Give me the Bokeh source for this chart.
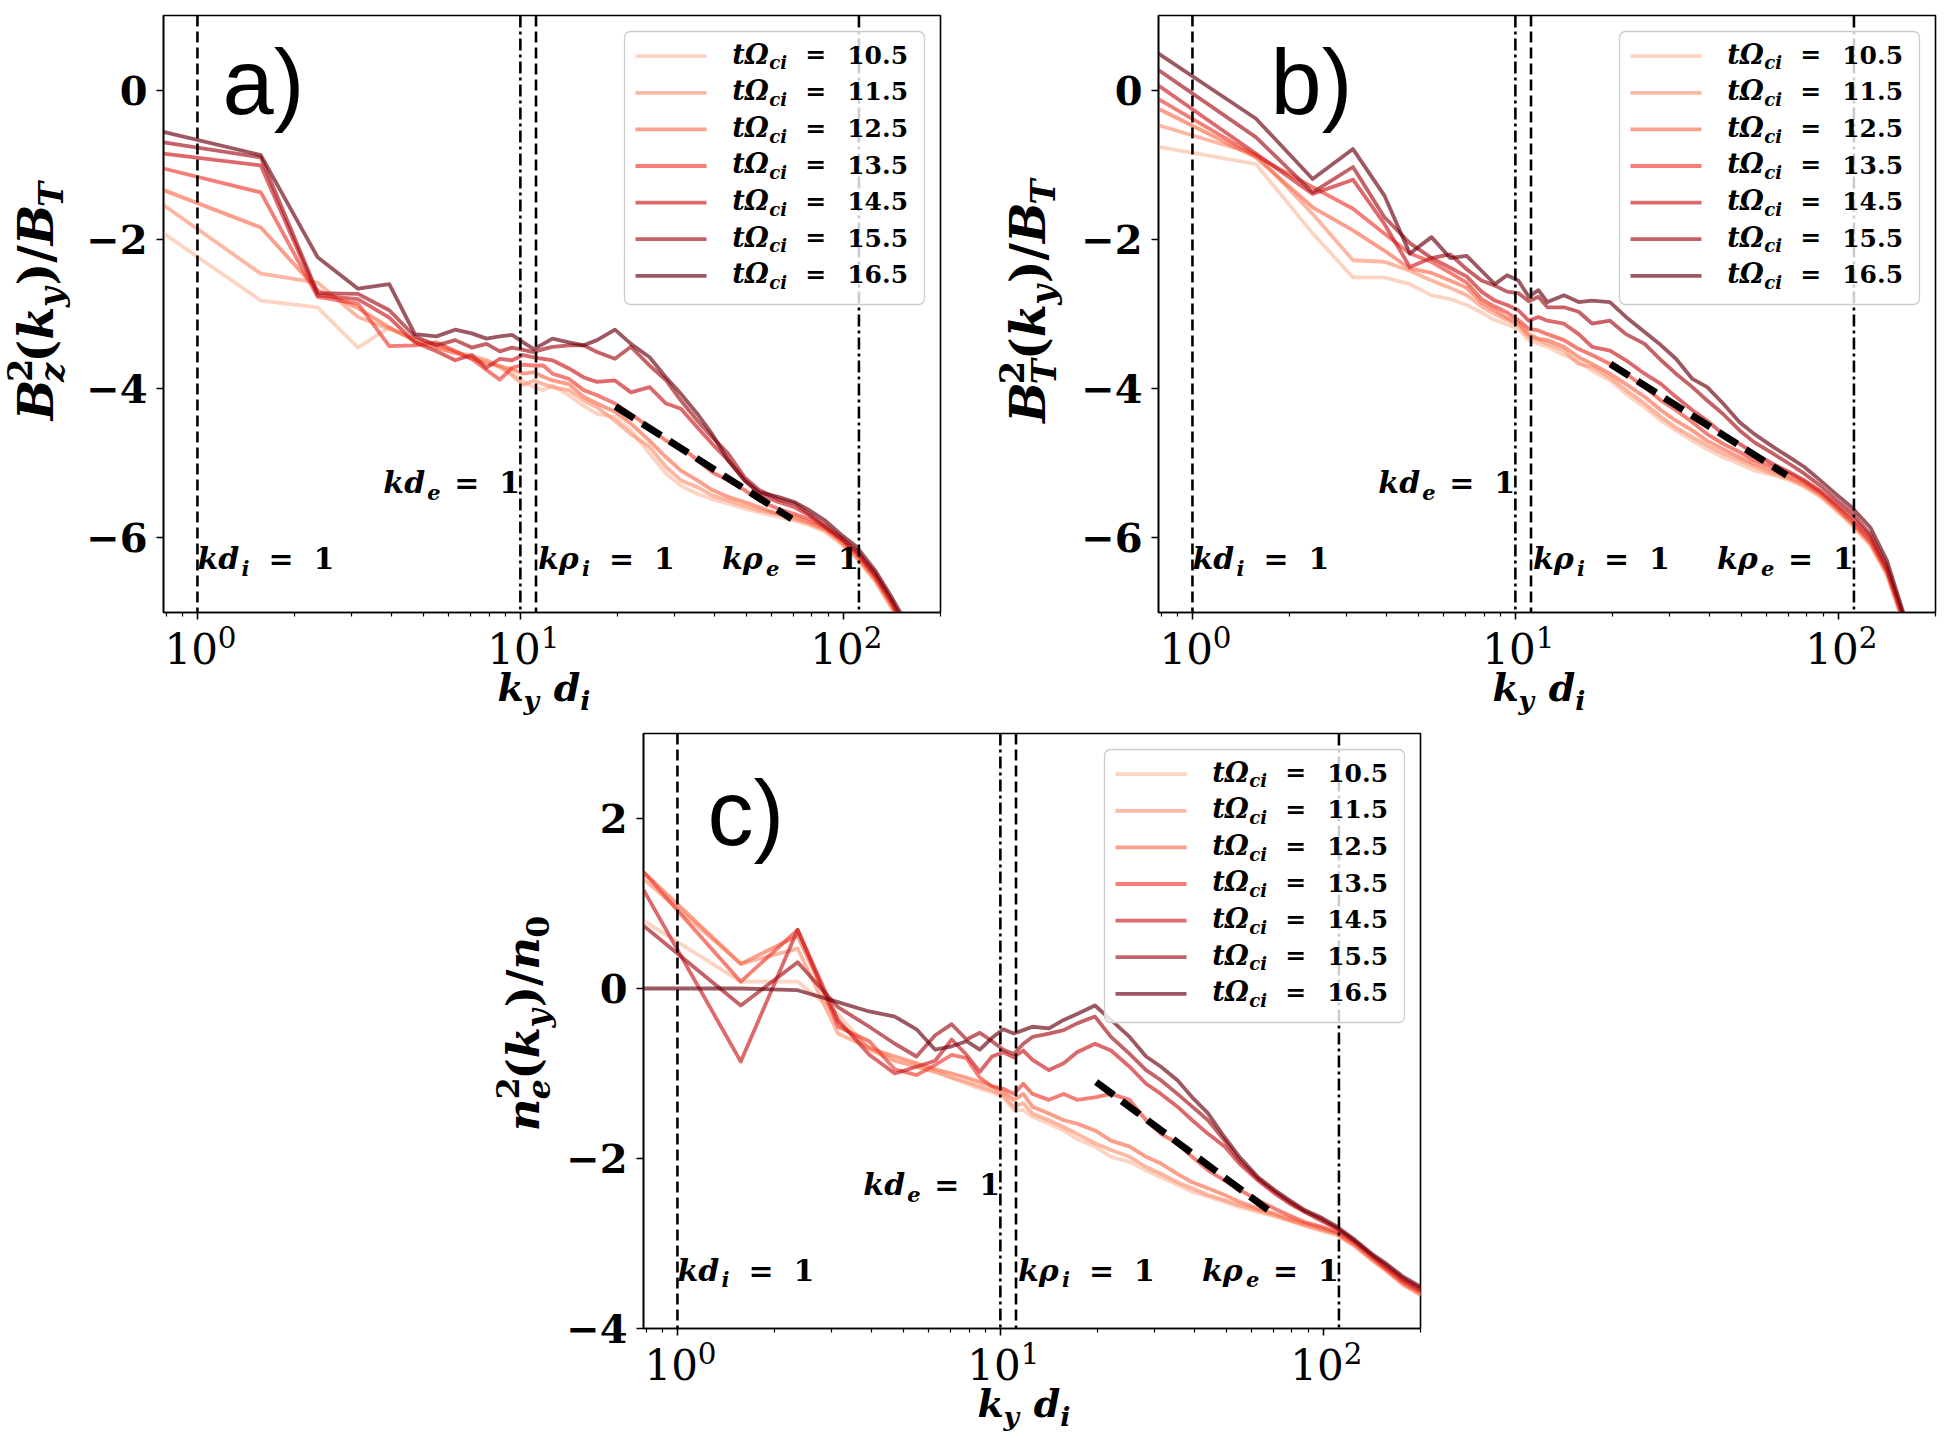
import math
from bokeh.plotting import figure
from bokeh.models import (Range1d, FixedTicker, Span, Label, BoxAnnotation, Spacer,
                          CustomJSTickFormatter)
from bokeh.layouts import row, column
from bokeh.embed import file_html
from bokeh.resources import INLINE

# ---------------- data ----------------
K = [0.785, 1.571, 2.356, 3.142, 3.927, 4.712, 5.498, 6.283, 7.069, 7.854, 8.639, 9.425,
     10.21, 11.0, 11.78, 12.57, 14.14, 15.71, 17.28, 19.63, 22.0, 25.13, 28.27, 31.42,
     35.34, 39.27, 43.98, 49.48, 54.98, 62.83, 70.69, 78.54, 87.96, 98.17, 110.0, 125.7,
     141.4, 157.1, 176.7, 200.3]

TIMES = ["10.5", "11.5", "12.5", "13.5", "14.5", "15.5", "16.5"]
COLORS = ["#fcbba1", "#fc9272", "#fb6a4a", "#ef3b2c", "#cb181d", "#a50f15", "#67000d"]

# panel a : B_z^2
A_105 = [-1.92, -2.82, -2.91, -3.45, -3.18, -3.36, -3.45, -3.52, -3.55, -3.62, -3.72, -3.80, -3.90,
         -3.98, -4.02, -3.96, -4.09, -4.23, -4.34, -4.38, -4.56, -4.87, -5.14, -5.30, -5.41, -5.48,
         -5.54, -5.61, -5.66, -5.72, -5.77, -5.83, -5.92, -6.08, -6.28, -6.59, -6.95, -7.35, -7.95, -8.55]
A_115 = [-1.54, -2.46, -2.58, -3.04, -3.20, -3.33, -3.42, -3.50, -3.58, -3.62, -3.70, -3.82, -3.95,
         -3.89, -3.94, -3.98, -4.02, -4.16, -4.25, -4.43, -4.61, -4.78, -5.05, -5.23, -5.32, -5.43,
         -5.50, -5.57, -5.63, -5.68, -5.75, -5.81, -5.90, -6.06, -6.26, -6.57, -6.93, -7.35, -7.90, -8.50]
A_125 = [-1.34, -1.84, -2.68, -2.92, -3.18, -3.36, -3.45, -3.52, -3.60, -3.66, -3.70, -3.74, -3.80,
         -3.78, -3.84, -3.89, -3.94, -4.11, -4.20, -4.31, -4.47, -4.70, -4.92, -5.10, -5.23, -5.36,
         -5.45, -5.52, -5.59, -5.68, -5.72, -5.79, -5.88, -6.04, -6.24, -6.55, -6.91, -7.30, -7.90, -8.50]
A_135 = [-1.05, -1.37, -2.77, -2.86, -3.43, -3.42, -3.38, -3.50, -3.60, -3.75, -3.88, -3.72, -3.68,
         -3.69, -3.69, -3.80, -3.87, -4.02, -4.09, -4.20, -4.34, -4.52, -4.70, -4.78, -4.96, -5.12,
         -5.23, -5.36, -5.50, -5.61, -5.68, -5.75, -5.86, -6.01, -6.21, -6.53, -6.88, -7.30, -7.85, -8.45]
A_145 = [-0.85, -1.01, -2.75, -2.80, -3.05, -3.38, -3.50, -3.62, -3.55, -3.72, -3.60, -3.62, -3.55,
         -3.58, -3.60, -3.62, -3.73, -3.85, -3.91, -3.89, -4.05, -3.98, -4.20, -4.27, -4.52, -4.74,
         -4.96, -5.23, -5.41, -5.52, -5.59, -5.70, -5.86, -6.01, -6.19, -6.50, -6.86, -7.25, -7.80, -8.40]
A_155 = [-0.70, -0.90, -2.72, -2.73, -2.95, -3.30, -3.42, -3.35, -3.45, -3.40, -3.50, -3.45, -3.48,
         -3.51, -3.47, -3.44, -3.42, -3.42, -3.51, -3.60, -3.44, -3.69, -3.89, -4.16, -4.43, -4.65,
         -4.87, -5.19, -5.36, -5.48, -5.54, -5.68, -5.83, -5.99, -6.17, -6.48, -6.84, -7.20, -7.75, -8.35]
A_165 = [-0.56, -0.87, -2.24, -2.66, -2.60, -3.27, -3.30, -3.21, -3.26, -3.33, -3.30, -3.28, -3.38,
         -3.47, -3.40, -3.33, -3.38, -3.42, -3.35, -3.21, -3.40, -3.58, -3.85, -4.07, -4.34, -4.61,
         -4.96, -5.23, -5.39, -5.45, -5.52, -5.63, -5.77, -5.95, -6.12, -6.44, -6.80, -7.15, -7.70, -8.30]

# panel b : B_T^2
B_105 = [-0.76, -0.99, -1.92, -2.51, -2.51, -2.60, -2.75, -2.80, -2.88, -2.98, -3.08, -3.14, -3.20,
         -3.35, -3.40, -3.44, -3.55, -3.64, -3.76, -3.89, -4.07, -4.25, -4.43, -4.56, -4.70, -4.81,
         -4.92, -5.01, -5.10, -5.16, -5.23, -5.32, -5.45, -5.63, -5.83, -6.10, -6.50, -7.09, -7.80, -8.70]
B_115 = [-0.47, -0.86, -1.66, -2.28, -2.30, -2.42, -2.55, -2.65, -2.75, -2.90, -3.00, -3.08, -3.15,
         -3.31, -3.35, -3.40, -3.49, -3.67, -3.71, -3.85, -4.02, -4.20, -4.38, -4.52, -4.65, -4.76,
         -4.87, -4.96, -5.05, -5.14, -5.21, -5.30, -5.43, -5.61, -5.81, -6.08, -6.48, -7.06, -7.75, -8.65]
B_125 = [-0.25, -0.90, -1.57, -1.88, -2.15, -2.39, -2.45, -2.55, -2.65, -2.85, -2.95, -3.05, -3.12,
         -3.27, -3.33, -3.35, -3.44, -3.58, -3.67, -3.80, -3.94, -4.11, -4.29, -4.43, -4.56, -4.70,
         -4.81, -4.92, -5.01, -5.10, -5.19, -5.28, -5.41, -5.59, -5.79, -6.06, -6.46, -7.04, -7.75, -8.65]
B_135 = [-0.12, -0.88, -1.30, -1.59, -1.92, -2.19, -2.30, -2.45, -2.58, -2.80, -2.90, -2.98, -3.08,
         -3.20, -3.22, -3.27, -3.35, -3.47, -3.55, -3.67, -3.80, -3.98, -4.16, -4.29, -4.45, -4.61,
         -4.74, -4.85, -4.96, -5.05, -5.14, -5.25, -5.39, -5.57, -5.77, -6.04, -6.44, -7.02, -7.70, -8.60]
B_145 = [0.06, -0.85, -1.39, -1.20, -1.79, -2.37, -2.25, -2.38, -2.50, -2.70, -2.82, -2.88, -2.95,
         -3.09, -3.04, -3.09, -3.13, -3.27, -3.44, -3.49, -3.62, -3.80, -3.94, -4.11, -4.29, -4.43,
         -4.61, -4.74, -4.87, -5.01, -5.12, -5.23, -5.37, -5.54, -5.72, -5.99, -6.42, -7.00, -7.70, -8.60]
B_155 = [0.27, -0.63, -1.37, -1.03, -1.70, -2.05, -2.25, -2.20, -2.40, -2.55, -2.62, -2.70, -2.72,
         -2.83, -2.77, -2.91, -2.91, -2.97, -3.13, -3.09, -3.27, -3.40, -3.62, -3.80, -3.98, -4.16,
         -4.34, -4.56, -4.72, -4.87, -5.01, -5.14, -5.30, -5.48, -5.66, -5.95, -6.37, -6.97, -7.65, -8.55]
B_165 = [0.49, -0.38, -1.19, -0.79, -1.41, -2.19, -1.97, -2.25, -2.22, -2.42, -2.60, -2.48, -2.55,
         -2.77, -2.68, -2.84, -2.75, -2.84, -2.82, -2.84, -3.04, -3.24, -3.42, -3.60, -3.87, -3.98,
         -4.20, -4.45, -4.61, -4.78, -4.92, -5.05, -5.23, -5.41, -5.59, -5.86, -6.30, -6.93, -7.60, -8.50]

# panel c : n_e^2
C_105 = [0.80, 0.08, 0.08, -0.30, -0.72, -0.85, -0.92, -0.98, -1.05, -1.12, -1.18, -1.22, -1.28,
         -1.43, -1.43, -1.51, -1.59, -1.67, -1.77, -1.86, -1.98, -2.04, -2.14, -2.22, -2.31, -2.39,
         -2.45, -2.51, -2.57, -2.63, -2.68, -2.73, -2.79, -2.85, -2.90, -3.04, -3.20, -3.33, -3.49, -3.61]
C_115 = [1.29, 0.29, 0.47, -0.53, -0.70, -0.85, -0.92, -0.98, -1.05, -1.10, -1.15, -1.20, -1.26,
         -1.39, -1.35, -1.47, -1.55, -1.63, -1.71, -1.82, -1.90, -1.98, -2.10, -2.18, -2.28, -2.35,
         -2.43, -2.49, -2.55, -2.61, -2.67, -2.73, -2.79, -2.84, -2.89, -3.03, -3.19, -3.32, -3.48, -3.60]
C_125 = [1.37, 0.29, 0.62, -0.41, -0.70, -0.80, -0.88, -0.95, -1.00, -1.05, -1.10, -1.15, -1.22,
         -1.31, -1.24, -1.39, -1.47, -1.55, -1.59, -1.67, -1.79, -1.86, -1.98, -2.06, -2.18, -2.28,
         -2.35, -2.43, -2.51, -2.59, -2.65, -2.71, -2.77, -2.82, -2.88, -3.02, -3.18, -3.31, -3.47, -3.59]
C_135 = [1.37, 0.08, 0.69, -0.45, -0.62, -0.95, -1.02, -0.90, -0.78, -0.82, -1.05, -1.15, -1.18,
         -1.24, -1.12, -1.24, -1.31, -1.24, -1.31, -1.28, -1.24, -1.31, -1.55, -1.71, -1.82, -1.98,
         -2.14, -2.26, -2.37, -2.49, -2.59, -2.67, -2.75, -2.80, -2.86, -3.00, -3.16, -3.30, -3.45, -3.57]
C_145 = [1.16, -0.86, 0.69, -0.37, -0.78, -1.00, -0.92, -0.85, -0.60, -0.78, -0.98, -0.80, -0.75,
         -0.81, -0.73, -0.84, -0.96, -0.88, -0.75, -0.65, -0.73, -0.92, -1.12, -1.24, -1.39, -1.55,
         -1.71, -1.86, -2.06, -2.26, -2.41, -2.53, -2.63, -2.73, -2.82, -2.98, -3.14, -3.28, -3.43, -3.55]
C_155 = [0.74, -0.20, 0.31, -0.22, -0.45, -0.65, -0.80, -0.55, -0.42, -0.60, -0.52, -0.62, -0.72,
         -0.77, -0.65, -0.57, -0.53, -0.49, -0.41, -0.33, -0.57, -0.77, -0.96, -1.08, -1.24, -1.39,
         -1.55, -1.79, -2.02, -2.24, -2.39, -2.51, -2.63, -2.71, -2.82, -2.98, -3.14, -3.26, -3.41, -3.53]
C_165 = [0.00, 0.00, -0.02, -0.16, -0.27, -0.33, -0.48, -0.72, -0.68, -0.62, -0.72, -0.58, -0.48,
         -0.53, -0.49, -0.45, -0.47, -0.37, -0.30, -0.20, -0.37, -0.57, -0.80, -0.92, -1.08, -1.28,
         -1.47, -1.75, -1.98, -2.22, -2.37, -2.49, -2.61, -2.69, -2.80, -2.96, -3.12, -3.24, -3.39, -3.51]

# dashed reference slopes
REF_A_K = [19.7, 69.2]
REF_A_V = [-4.24, -5.745]
REF_B_K = [19.7, 69.2]
REF_B_V = [-3.67, -5.16]
REF_C_K = [19.8, 68.9]
REF_C_V = [-1.10, -2.63]

# characteristic scales
VLINE_K = [1.0, 10.0, 11.18, 111.8]
VLINE_DASH = ["11 5", "12 4 3 4", "11 5", "12 4 3 4"]

# tick values
XTICKS = [1, 10, 100]
XTICK_EXP = ["0", "1", "2"]
YTICKS_AB = [-6, -4, -2, 0]
YTICKS_C = [-4, -2, 0, 2]

X_LO, X_HI = 0.785, 200.0
FW = 777
LR = math.log10(X_HI / X_LO)

SERIF = "DejaVu Serif"
BI = "bold italic"
B = "bold"
N = "normal"
MID = 0.36   # baseline -> text-middle correction (fraction of font size)

WBI = {"B": .80, "k": .68, "y": .64, "z": .58, "T": .72, "d": .70, "i": .38, "n": .71,
       "e": .63, "t": .46, "c": .58, " ": .35, "2": .70, "0": .70}
WB = {"=": .838, " ": .348, "(": .473, ")": .473, "/": .365, ".": .38, "0": .696, "2": .696}
WN = {"0": .636, "1": .636, "2": .636}


def text_w(t, style, size):
    tab = WBI if "italic" in style else (WB if style == B else WN)
    return sum(tab.get(ch, 0.65) for ch in t) * size


def auto_parts(spec, size):
    parts, pos = [], 0.0
    for (t, st, sc, rise, adv) in spec:
        parts.append((t, st, sc, rise, pos))
        if adv:
            pos += text_w(t, st, size * sc)
    return parts, pos


def add_parts(p, x, y, parts, size, angle=0.0, xo=0.0, yo=0.0):
    for (t, st, sc, rise, at) in parts:
        perp = rise * size + MID * size * sc
        if angle == 0.0:
            dx, dy = at, perp
        else:
            dx, dy = -perp, at
        p.add_layout(Label(x=x, y=y, x_offset=xo + dx, y_offset=yo + dy, text=t, angle=angle,
                           text_font=SERIF, text_font_size=f"{size * sc:.1f}px",
                           text_font_style=st, text_baseline="alphabetic", text_align="left",
                           text_color="black"))


def minus(v):
    return ("\u2212" + str(abs(v))) if v < 0 else str(v)


XLAB = [("k", BI, 1, 0, 1), ("y", BI, 0.7, -0.22, 1), (" ", B, 1, 0, 1),
        ("d", BI, 1, 0, 1), ("i", BI, 0.7, -0.22, 1)]
YLAB_A = [("B", BI, 1, 0, 1), ("2", B, 0.7, 0.45, 0), ("z", BI, 0.7, -0.22, 1),
          ("(", B, 1, 0, 1), ("k", BI, 1, 0, 1), ("y", BI, 0.7, -0.2, 1), (")", B, 1, 0, 1),
          ("/", B, 1, 0, 1), ("B", BI, 1, 0, 1), ("T", BI, 0.7, -0.2, 1)]
YLAB_B = [("B", BI, 1, 0, 1), ("2", B, 0.7, 0.45, 0), ("T", BI, 0.7, -0.22, 1),
          ("(", B, 1, 0, 1), ("k", BI, 1, 0, 1), ("y", BI, 0.7, -0.2, 1), (")", B, 1, 0, 1),
          ("/", B, 1, 0, 1), ("B", BI, 1, 0, 1), ("T", BI, 0.7, -0.2, 1)]
YLAB_C = [("n", BI, 1, 0, 1), ("2", B, 0.7, 0.45, 0), ("e", BI, 0.7, -0.22, 1),
          ("(", B, 1, 0, 1), ("k", BI, 1, 0, 1), ("y", BI, 0.7, -0.2, 1), (")", B, 1, 0, 1),
          ("/", B, 1, 0, 1), ("n", BI, 1, 0, 1), ("0", B, 0.7, -0.2, 1)]


def kpart(letter, sub):
    return [("k" + letter, BI, 1, 0, 0), (sub, BI, 0.7, -0.22, 44), ("=", B, 1, 0, 71),
            ("1", B, 1, 0, 116)]


def xdat(rel):
    lo = math.log10(X_LO)
    return 10 ** (lo + rel / FW * LR)


def make_panel(series, ref_k, ref_v, ylo, yhi, yticks, fh, letter, letter_pos, text_y,
               mb_left, mb_right, mb_top, mb_bottom, native_ylabels=True):
    p = figure(x_axis_type="log", x_range=Range1d(X_LO, X_HI), y_range=Range1d(ylo, yhi),
               frame_width=FW, frame_height=fh, min_border_left=mb_left,
               min_border_right=mb_right, min_border_top=mb_top, min_border_bottom=mb_bottom,
               output_backend="svg", toolbar_location=None, background_fill_color="white",
               border_fill_color="white", frame_align=False)
    p.grid.visible = False
    p.outline_line_color = "black"
    p.outline_line_width = 1.6
    p.outline_line_alpha = 1.0

    xa = p.xaxis[0]
    xa.ticker = FixedTicker(ticks=XTICKS,
                            minor_ticks=[0.8, 0.9, 2, 3, 4, 5, 6, 7, 8, 9, 20, 30, 40, 50, 60,
                                         70, 80, 90, 200])
    # decade labels are drawn (with true superscripts) in the strip below
    xa.formatter = CustomJSTickFormatter(code="return '';")
    xa.major_label_text_font_size = "0px"
    xa.major_label_standoff = 0
    ya = p.yaxis[0]
    ya.ticker = FixedTicker(ticks=yticks, minor_ticks=[])
    for ax in (xa, ya):
        ax.axis_line_color = "black"
        ax.axis_line_width = 1.6
        ax.major_tick_out = 7
        ax.major_tick_in = 0
        ax.minor_tick_out = 4
        ax.minor_tick_in = 0
        ax.major_tick_line_width = 1.6
        ax.minor_tick_line_width = 1.2
        ax.major_label_text_font = SERIF
        ax.major_label_text_color = "black"
        ax.axis_label = None
    if native_ylabels:
        ya.formatter = CustomJSTickFormatter(
            code="return tick < 0 ? '\u2212' + Math.abs(tick) : '' + tick;")
        ya.major_label_text_font_size = "40px"
        ya.major_label_text_font_style = "bold"
        ya.major_label_standoff = 9
    else:
        ya.formatter = CustomJSTickFormatter(code="return '';")
        ya.major_label_text_font_size = "0px"
        ya.major_label_standoff = 0

    for loc, dash in zip(VLINE_K, VLINE_DASH):
        p.add_layout(Span(location=loc, dimension="height", line_color="black",
                          line_width=2.6, line_dash=dash))

    for vals, col in zip(series, COLORS):
        p.line(K, vals, line_color=col, line_alpha=0.65, line_width=3.8, line_join="round")

    p.line(ref_k, ref_v, line_color="black", line_width=7, line_dash="22 10")

    ty_i, ty_e = text_y
    add_parts(p, VLINE_K[0], ty_i, kpart("d", "i"), 30)
    add_parts(p, VLINE_K[1], ty_e, kpart("d", "e"), 30, xo=-137)
    add_parts(p, VLINE_K[2], ty_i, kpart("\u03c1", "i"), 30, xo=2)
    add_parts(p, VLINE_K[3], ty_i, kpart("\u03c1", "e"), 30, xo=-137)

    p.add_layout(Label(x=X_LO, y=yhi, x_offset=letter_pos[0],
                       y_offset=-letter_pos[1] + MID * 92,
                       text=letter, text_font="Liberation Sans", text_font_size="92px",
                       text_baseline="alphabetic", text_align="left", text_color="black"))

    def ydat(rel):
        return yhi - rel / fh * (yhi - ylo)
    p.add_layout(BoxAnnotation(left=xdat(461), right=xdat(761), top=ydat(16), bottom=ydat(289),
                               fill_color="white", fill_alpha=0.8, line_color="#cccccc",
                               line_alpha=1.0, line_width=1.3, border_radius=6))
    for i, (t, col) in enumerate(zip(TIMES, COLORS)):
        ry = 40.7 + 36.6 * i
        r = p.segment(x0=[xdat(472)], y0=[ydat(ry)], x1=[xdat(543)], y1=[ydat(ry)],
                      line_color=col, line_alpha=0.65, line_width=3.8)
        r.level = "overlay"
        parts = [("t\u03a9", BI, 1.08, 0, 0), ("ci", BI, 0.72, -0.22, 37), ("=", B, 1, 0, 73),
                 (t, B, 1, 0, 115)]
        add_parts(p, X_LO, yhi, parts, 25, xo=568.7, yo=-(ry + 7.6))
    return p


def blank_fig(fw, h, left=0, right=0):
    f = figure(frame_width=fw, frame_height=h, x_range=Range1d(0, fw), y_range=Range1d(0, h),
               min_border_left=left, min_border_right=right, min_border_top=0,
               min_border_bottom=0, toolbar_location=None, output_backend="svg",
               x_axis_location=None, y_axis_location=None, background_fill_color="white",
               border_fill_color="white", frame_align=False)
    f.grid.visible = False
    f.outline_line_color = None
    return f


def ylabel_fig(w, h, spec, size, base_x, center_y, ticks=None, tick_x=0,
               frame_top=0, fh=0, ylo=0, yhi=0):
    f = blank_fig(w, h)
    parts, tot = auto_parts(spec, size)
    add_parts(f, base_x, center_y, parts, size, angle=math.pi / 2, yo=-tot / 2)
    if ticks:
        # value labels of the panel's y ticks (placed with the panel's own linear mapping)
        for v in ticks:
            ly = h - (frame_top + (yhi - v) / (yhi - ylo) * fh)
            f.add_layout(Label(x=tick_x, y=ly, text=minus(v), text_font=SERIF,
                               text_font_size="40px", text_font_style="bold",
                               text_align="right", text_baseline="alphabetic",
                               text_color="black"))
    return f


def xstrip_fig(h, left, right, tick_base, lab_base):
    """strip below a panel, frame aligned with the panel frame: decade labels + axis label"""
    f = blank_fig(FW, h, left, right)

    def px(k):
        return (math.log10(k) - math.log10(X_LO)) / LR * FW
    for tk, ex in zip(XTICKS, XTICK_EXP):
        parts = [("10", N, 1, 0, 0), (ex, N, 0.7, 0.38, 53.4)]
        add_parts(f, px(tk), tick_base, parts, 42, xo=-33)
    parts, tot = auto_parts(XLAB, 38)
    add_parts(f, FW / 2, lab_base, parts, 38, xo=-tot / 2 - 8)
    return f


pa = make_panel([A_105, A_115, A_125, A_135, A_145, A_155, A_165], REF_A_K, REF_A_V,
                -7, 1, YTICKS_AB, 597, "a)", (59, 100), (-6.42, -5.40),
                83, 10, 15, 8)
pb = make_panel([B_105, B_115, B_125, B_135, B_145, B_155, B_165], REF_B_K, REF_B_V,
                -7, 1, YTICKS_AB, 597, "b)", (112, 100), (-6.42, -5.40),
                83, 21, 15, 8)
pc = make_panel([C_105, C_115, C_125, C_135, C_145, C_155, C_165], REF_C_K, REF_C_V,
                -4, 3, YTICKS_C, 595, "c)", (64, 113), (-3.44, -2.43),
                10, 44, 15, 8, native_ylabels=False)

lxa = xstrip_fig(98, 83, 10, 55, 17)
lxb = xstrip_fig(98, 83, 21, 55, 17)
lxc = xstrip_fig(102, 10, 44, 59, 21)

lya = ylabel_fig(80, 718, YLAB_A, 48, 53, 718 - 301)
lyb = ylabel_fig(125, 718, YLAB_B, 48, 95, 718 - 301)
lyc = ylabel_fig(150, 720, YLAB_C, 45, 56, 1438 - 1023, ticks=YTICKS_C, tick_x=144,
                 frame_top=15, fh=595, ylo=-4, yhi=3)

top = row(lya, column(pa, lxa), lyb, column(pb, lxb))
bottom = row(Spacer(width=483, height=720), lyc, column(pc, lxc))
layout = column(top, bottom)

open("out.html", "w").write(file_html(layout, INLINE))
